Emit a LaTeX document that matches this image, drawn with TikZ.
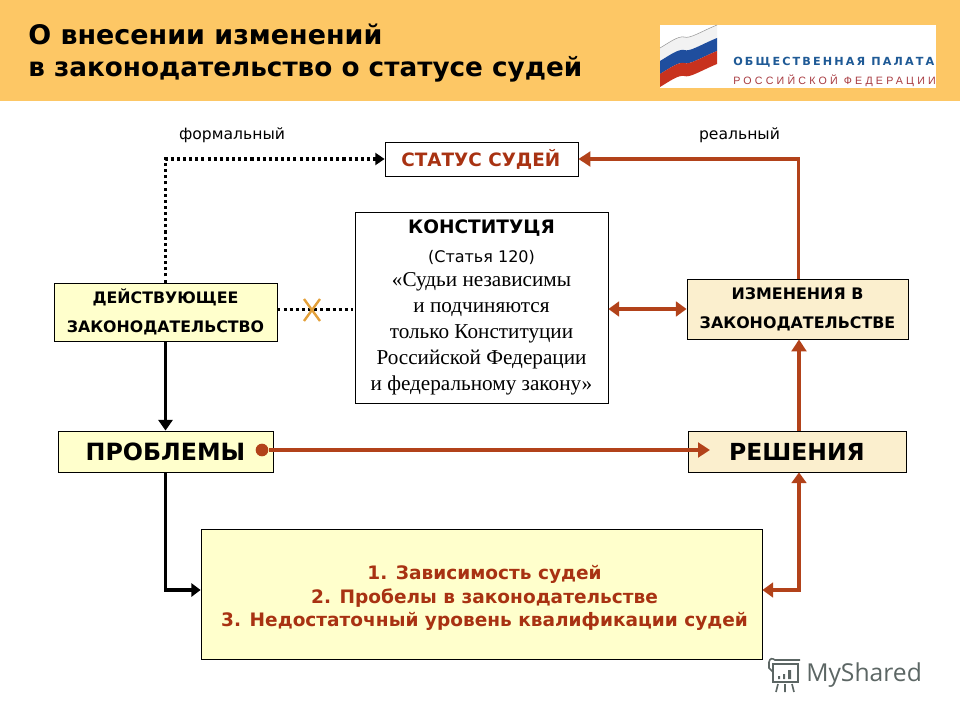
\documentclass[tikz,border=0pt]{standalone}
\usepackage{fontspec}
\setmainfont{Liberation Serif}
\newfontfamily\dv{DejaVu Sans}
\newfontfamily\ls{Liberation Sans}
\newfontfamily\lato{Open Sans}
\usetikzlibrary{arrows.meta,calc}
\definecolor{band}{HTML}{FDC765}
\definecolor{pale}{HTML}{FFFFCC}
\definecolor{cream}{HTML}{FBEFCE}
\definecolor{rust}{HTML}{B2421A}
\definecolor{deepred}{HTML}{A83212}
\definecolor{wmark}{HTML}{5C6664}
\definecolor{crossc}{HTML}{E3A03A}
\definecolor{flagblue}{HTML}{1F4E9E}
\definecolor{flagred}{HTML}{C8321E}
\definecolor{logoblue}{HTML}{1F5A96}
\definecolor{logored}{HTML}{A83A40}
\newcommand{\fsz}[1]{\fontsize{#1}{#1}\selectfont}
\newcommand{\flagband}[2]{\fill[#2] (660,#1) .. controls (670,#1-6) and (678,#1-12) .. (684,#1-11) .. controls (690,#1-9) and (700,#1-16) .. (717,#1-23) -- (717,#1-10) .. controls (700,#1-3) and (690,#1+4) .. (684,#1+2) .. controls (678,#1+1) and (670,#1+7) .. (660,#1+13) -- cycle;}
\tikzset{
  box/.style={draw=black,line width=0.6pt,inner sep=0pt,align=center,font=\dv\bfseries},
  redline/.style={draw=rust,line width=2.4pt,-{Triangle[length=9pt,width=11pt,fill=rust]}},
  redboth/.style={draw=rust,line width=2.4pt,{Triangle[length=8pt,width=11pt,fill=rust]}-{Triangle[length=8pt,width=11pt,fill=rust]}},
  blackline/.style={draw=black,line width=2.4pt,-{Triangle[length=8pt,width=10.5pt]}},
  dotline/.style={draw=black,line width=2.3pt,dash pattern=on 2.3pt off 2.3pt},
  label/.style={inner sep=0pt,font=\dv\fsz{11.7pt}}
}
\begin{document}
\begin{tikzpicture}[x=0.75pt,y=-0.75pt]
\useasboundingbox (0,0) rectangle (960,720);
\fill[band] (0,0) rectangle (960,101);
\node[anchor=north west,inner sep=0pt,align=left,font=\dv\bfseries\fontsize{19.7pt}{24pt}\selectfont] (title) at (28,23.5) {{\fontsize{20.2pt}{24pt}\selectfont О внесении изменений}\\в законодательство о статусе судей};
% logo
\fill[white] (660,25) rectangle (936,88);
\flagband{48}{black!5}
\flagband{61}{flagblue}
\flagband{74}{flagred}
\draw[black!40,line width=.4pt] (660,48) .. controls (670,42) and (678,36) .. (684,37) .. controls (690,39) and (700,32) .. (717,25);
\node[anchor=west,inner sep=0pt,text=logoblue,font=\dv\bfseries\fsz{8.4pt}\addfontfeature{LetterSpace=19}] (logoa) at (733,62) {ОБЩЕСТВЕННАЯ ПАЛАТА};
\node[anchor=west,inner sep=0pt,text=logored,font=\ls\fsz{8pt}\addfontfeature{LetterSpace=30}] (logob) at (733,81) {РОССИЙСКОЙ ФЕДЕРАЦИИ};
% labels
\node[label] (formal) at (232,135) {формальный};
\node[label] (real) at (739.5,135) {реальный};
% boxes
\node[box,minimum width=144.75pt,minimum height=25.5pt,text=deepred,font=\dv\bfseries\fsz{13.8pt}] (status) at (481.5,159) {\hspace*{-1pt}СТАТУС СУДЕЙ};
\node[box,font=\rmfamily\fontsize{15.9pt}{19.5pt}\selectfont,minimum width=189.75pt,minimum height=143.25pt] (konst) at (481.5,307.5)
 {{\dv\bfseries\fontsize{13.9pt}{19.5pt}\selectfont КОНСТИТУЦЯ}\\[2pt]
  {\dv\mdseries\fontsize{12pt}{19.5pt}\selectfont (Статья 120)}\\[-1.5pt]
  «Судьи независимы\\и подчиняются\\только Конституции\\Российской Федерации\\и федеральному закону»};
\node[box,fill=pale,minimum width=167.25pt,minimum height=43.5pt,font=\dv\bfseries\fontsize{11.85pt}{21.75pt}\selectfont] (deist) at (165.5,312) {\raisebox{2.2pt}{ДЕЙСТВУЮЩЕЕ}\\\raisebox{2.2pt}{ЗАКОНОДАТЕЛЬСТВО}};
\node[box,fill=cream,minimum width=165.75pt,minimum height=45pt,font=\dv\bfseries\fontsize{11.9pt}{21.75pt}\selectfont] (izm) at (797.5,309) {\raisebox{-2.2pt}{ИЗМЕНЕНИЯ В}\\\raisebox{-2.2pt}{ЗАКОНОДАТЕЛЬСТВЕ}};
\node[box,fill=pale,minimum width=161.25pt,minimum height=30.75pt,font=\dv\bfseries\fsz{17.8pt}] (probl) at (165.5,451.5) {ПРОБЛЕМЫ};
\node[box,fill=cream,minimum width=163.5pt,minimum height=30.75pt,font=\dv\bfseries\fsz{17.6pt}] (resh) at (797,451.5) {РЕШЕНИЯ};
\node[box,fill=pale,minimum width=420.75pt,minimum height=97.5pt] (list) at (481.5,594) {};
\node[inner sep=0pt,align=center,text=deepred,font=\dv\bfseries\fontsize{13.9pt}{17.5pt}\selectfont] (listtext) at (484.5,598) {1. Зависимость судей\\2. Пробелы в законодательстве\\3. Недостаточный уровень квалификации судей};
% connectors
\draw[dotline] (deist.north) |- ([xshift=-6pt]status.west);
\draw[-{Triangle[length=7pt,width=9pt]},black,line width=2.3pt] ([xshift=-7pt]status.west) -- (status.west);
\draw[redline] ([xshift=1pt]izm.north) |- (status.east);
\draw[redboth] (konst.east |- izm.west) -- (izm.west);
\coordinate (xc) at (312,310);
\draw[dotline] ([yshift=2pt]deist.east) -- ([xshift=-1pt,yshift=2pt]konst.west |- deist.east);
\draw[draw=crossc,line width=1.8pt] ($(xc)+(-8,-11)$) -- ($(xc)+(8,11)$) ($(xc)+(-8,11)$) -- ($(xc)+(8,-11)$);
\draw[blackline] (deist.south) -- (probl.north);
\draw[draw=black,line width=2.4pt,-{Triangle[length=7pt,width=10pt]}] (probl.south) |- ([yshift=3pt]list.west);
\node[circle,fill=rust,inner sep=0pt,minimum size=9.5pt] (dot) at (262,450) {};
\coordinate (rt) at (710,450);
\draw[redline] (dot) -- (rt);
\coordinate (rn) at ([xshift=1.5pt]resh.north);
\draw[redline] (rn) -- (rn |- izm.south);
\draw[redboth] ([yshift=3pt]list.east) -| (rn |- resh.south);
% watermark
\node[anchor=west,inner sep=0pt,text=wmark,font=\lato\fsz{18.5pt}] (mys) at (806,675) {MyShared};
\begin{scope}[draw=wmark,line width=1.2pt]
\draw (773,664) rectangle (798,682);
\draw (769,662) -- (769,668) -- (773,672) (769,662) .. controls (770,658) and (772,658) .. (775,660) -- (800,660);
\draw (778,684) -- (776,692) (785,684) -- (785,692) (792,684) -- (794,692);
\fill[wmark] (778,676) rectangle (780,679) (783,674) rectangle (785,679) (788,670) rectangle (791,679);
\end{scope}
\end{tikzpicture}
\end{document}
